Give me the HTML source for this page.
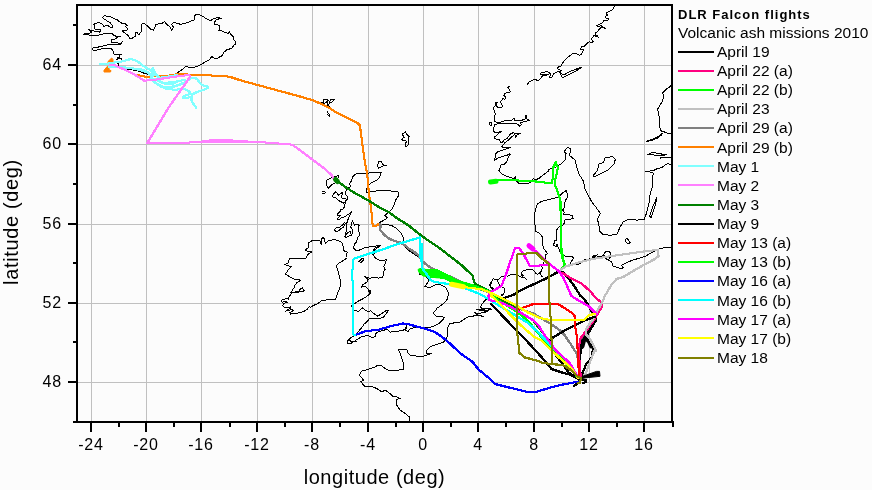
<!DOCTYPE html>
<html><head><meta charset="utf-8"><title>DLR Falcon flights - Volcanic ash missions 2010</title>
<style>html,body{margin:0;padding:0;background:#fcfcfc;width:872px;height:490px;overflow:hidden}body{position:relative}</style>
</head><body>
<svg width="872" height="490" viewBox="0 0 872 490" style="position:absolute;left:0;top:0"><g shape-rendering="crispEdges"><rect x="91" y="6" width="1" height="415" fill="#c0c0c0"/><rect x="146" y="6" width="1" height="415" fill="#c0c0c0"/><rect x="201" y="6" width="1" height="415" fill="#c0c0c0"/><rect x="257" y="6" width="1" height="415" fill="#c0c0c0"/><rect x="312" y="6" width="1" height="415" fill="#c0c0c0"/><rect x="368" y="6" width="1" height="415" fill="#c0c0c0"/><rect x="423" y="6" width="1" height="415" fill="#c0c0c0"/><rect x="478" y="6" width="1" height="415" fill="#c0c0c0"/><rect x="534" y="6" width="1" height="415" fill="#c0c0c0"/><rect x="589" y="6" width="1" height="415" fill="#c0c0c0"/><rect x="644" y="6" width="1" height="415" fill="#c0c0c0"/><rect x="78" y="382" width="593" height="1" fill="#c0c0c0"/><rect x="78" y="303" width="593" height="1" fill="#c0c0c0"/><rect x="78" y="224" width="593" height="1" fill="#c0c0c0"/><rect x="78" y="144" width="593" height="1" fill="#c0c0c0"/><rect x="78" y="65" width="593" height="1" fill="#c0c0c0"/></g><path d="M102.8,17.7 103.3,16.3 105.1,15.4 106.8,16.3 109.1,16.3 112.0,17.2 114.2,18.9 117.1,19.7 119.4,21.7 121.7,23.2 124.6,23.8 126.9,24.3 127.4,25.8 125.1,26.3 126.3,27.5 128.0,29.2 126.3,30.3 124.0,30.3 122.3,30.9 123.4,32.1 125.1,33.2 126.9,34.4 128.0,35.5 129.2,37.2 130.3,38.9 132.0,38.4 133.7,37.2 135.0,36.6 135.0,33.0 137.0,32.5 138.8,34.8 141.0,32.0 142.0,23.8 144.3,23.6 148.0,26.5 150.7,29.3 153.5,30.2 154.8,27.9 155.3,24.7 159.0,23.8 161.9,23.5 164.8,21.6 166.8,24.5 169.7,26.4 171.6,30.3 173.6,27.4 171.6,24.5 173.6,22.5 177.5,23.5 181.4,24.5 183.3,23.5 188.2,22.5 192.1,20.6 195.0,19.6 194.0,16.7 196.0,14.7 198.9,14.4 201.9,15.7 204.8,17.7 207.7,19.6 210.6,20.6 213.6,18.6 214.4,18.6 216.5,17.6 221.3,18.1 216.5,19.7 213.9,22.9 214.9,25.0 217.6,24.5 219.7,26.0 219.2,29.2 218.7,30.8 221.8,30.8 225.0,32.4 228.2,33.5 229.3,31.9 230.9,34.5 233.5,36.7 233.0,39.3 235.1,40.9 235.6,44.1 233.5,45.2 232.5,47.8 229.8,48.9 226.6,49.9 225.0,51.5 223.4,52.1 224.0,53.1 221.8,55.8 218.7,57.4 216.0,59.0 212.8,57.4 211.8,56.3 210.7,57.9 209.1,60.0 204.2,62.5 199.6,65.3 195.0,67.0 188.2,67.0 185.9,66.5 180.1,71.1 175.6,73.9 169.8,76.2 161.8,76.2 150.3,74.5 146.4,73.9 141.8,72.5 139.1,71.2 130.0,69.5 123.5,68.4 119.0,66.0 118.0,63.5 120.7,61.1 121.5,60.3 121.5,58.9 120.0,58.4 118.0,58.9 116.6,59.4 117.6,57.9 119.5,57.4 120.0,54.9 121.5,54.2 118.5,54.7 116.6,54.9 114.1,54.0 113.4,53.7 113.4,51.4 111.5,48.7 106.9,48.2 100.5,49.1 95.0,50.5 92.9,50.0 92.0,48.1 95.6,47.6 102.0,46.3 109.4,44.4 120.4,44.4 122.2,41.7 120.4,43.5 116.7,42.6 111.7,42.1 111.7,39.8 113.7,40.0 115.4,38.9 117.7,37.2 120.6,36.4 117.1,36.7 114.2,35.5 112.0,33.5 104.5,33.5 99.9,34.9 96.5,35.5 91.9,35.5 88.4,34.9 85.0,34.9 83.5,34.5 85.0,33.5 87.3,33.2 89.6,33.2 91.9,32.6 90.2,30.9 88.4,29.2 90.7,30.3 93.6,30.9 96.5,31.5 99.3,32.1 101.1,30.9 100.5,29.2 97.6,29.8 95.3,29.2 94.2,28.1 94.7,26.3 93.6,24.6 95.3,23.5 97.0,22.9 99.3,22.9 101.6,23.5 102.8,24.6 103.9,26.3 105.6,25.8 107.4,25.2 109.1,26.3 110.2,27.5 112.0,28.1 113.1,26.9 112.0,25.2 110.8,23.5 109.7,22.3 107.9,21.7 106.2,20.0 103.9,18.9 102.8,17.7 M323.4,99.8 326.6,99.3 327.7,100.4 326.6,102.0 325.0,103.0 324.0,104.1 322.9,102.5 323.4,100.9 323.4,99.8 M327.2,101.4 328.7,100.9 329.8,102.5 328.7,104.6 327.7,105.7 327.2,104.1 327.2,101.4 M330.3,99.8 334.6,99.3 333.5,100.9 331.9,102.0 330.9,103.0 329.8,101.4 330.3,99.8 M327.2,111.5 328.2,113.6 329.8,114.7 329.3,116.3 328.2,115.8 327.7,114.2 M320.5,102.0 322.0,102.5 M329.0,106.5 331.0,107.5 M405.5,131.4 406.0,132.7 407.0,134.4 407.8,135.7 409.5,136.2 408.5,136.7 408.5,139.8 408.8,143.4 408.0,144.9 407.2,145.9 405.7,146.4 405.2,144.9 405.5,142.9 406.5,141.8 406.0,140.6 404.9,140.3 403.7,140.8 402.1,139.8 401.4,139.3 402.7,138.3 404.4,137.5 403.4,136.5 402.9,135.2 402.4,134.2 403.4,133.2 404.7,132.7 405.5,131.4 M378.4,162.0 381.2,161.3 382.6,164.8 386.7,165.5 382.6,166.1 378.4,168.2 377.7,165.5 378.4,162.0 M326.1,180.6 328.9,179.2 333.7,176.5 338.5,175.8 337.8,179.2 335.8,182.7 331.6,184.7 328.2,188.2 326.8,185.4 326.1,180.6 M322.0,191.6 323.5,191.2 325.5,192.5 324.0,193.7 322.5,193.2 M331.6,196.4 335.8,191.6 338.5,195.0 342.7,192.3 341.3,197.8 346.8,199.2 344.0,203.3 338.5,200.5 335.8,197.8 331.6,196.4 M355.7,173.7 363.3,173.0 366.0,173.7 371.6,172.3 381.2,172.3 379.8,177.2 377.1,179.9 371.6,182.7 368.1,185.4 367.4,188.2 366.0,188.2 366.0,193.0 371.6,191.6 377.1,190.9 382.6,190.2 389.4,190.9 397.7,191.6 399.1,195.0 396.3,199.2 395.7,200.0 394.3,204.1 391.6,209.6 388.8,212.4 384.7,215.1 387.4,217.9 383.3,220.6 379.2,222.7 378.5,224.1 380.5,224.8 384.7,224.1 391.6,225.5 397.1,228.9 401.2,233.0 403.3,237.2 403.3,241.3 402.6,244.0 405.3,246.8 409.4,250.9 413.6,253.7 417.7,256.4 420.5,259.2 421.8,264.7 422.3,267.9 418.9,270.0 419.5,274.0 425.0,276.0 429.2,280.3 426.4,284.4 425.0,286.5 429.2,287.8 434.7,285.1 440.2,284.4 445.7,287.2 448.4,292.7 447.7,298.2 445.7,301.6 441.6,305.0 443.4,303.7 439.7,306.4 436.9,308.3 436.0,310.1 433.3,312.9 434.2,314.7 436.9,316.5 441.5,316.5 444.3,317.4 443.4,319.3 439.7,323.0 435.1,325.7 430.5,327.1 419.5,327.5 414.0,327.5 409.4,329.4 408.5,331.2 405.7,330.8 406.6,325.7 405.7,328.5 403.0,330.3 397.4,331.2 390.1,332.1 387.3,329.4 381.8,330.6 376.3,332.7 374.9,336.8 372.2,337.5 368.1,335.4 361.2,336.8 357.1,339.5 351.6,343.0 347.4,343.7 347.4,340.9 350.2,338.2 354.3,335.4 357.1,332.7 361.2,328.5 363.9,324.4 366.7,321.7 369.4,318.9 376.3,318.9 383.2,317.5 387.3,312.0 388.7,310.0 386.0,310.6 381.8,313.4 377.7,316.1 373.6,313.4 370.8,310.6 368.1,312.0 365.3,310.0 362.6,307.9 358.4,311.3 354.3,310.6 351.6,305.8 354.3,303.8 358.4,301.0 363.9,298.3 368.1,295.5 370.8,292.8 370.1,290.0 369.4,293.3 368.1,289.2 365.3,286.4 361.2,287.1 362.6,285.0 366.7,282.3 368.1,279.5 363.9,276.1 369.4,278.2 376.3,277.5 378.3,278.2 382.4,277.5 383.8,274.8 383.1,272.0 385.1,269.3 383.8,266.5 385.1,263.8 386.5,259.6 381.0,261.0 377.7,259.6 374.9,257.5 372.2,253.4 373.6,249.3 376.3,247.2 380.5,245.4 M380.5,245.4 377.8,247.5 375.0,249.5 374.4,253.7 M355.7,173.7 353.0,176.5 351.6,180.6 349.5,184.0 350.9,186.8 346.8,188.2 346.1,190.9 345.4,194.4 347.9,196.8 347.9,198.7 346.1,200.5 345.2,203.3 344.3,206.9 343.3,208.8 340.6,209.7 339.7,212.4 337.8,213.3 337.8,215.2 340.6,215.2 338.8,217.0 336.9,218.9 338.8,219.8 341.5,217.9 344.3,217.0 347.0,215.2 349.8,213.3 351.6,211.5 350.7,214.3 348.9,217.0 347.9,219.8 347.0,222.5 346.1,225.3 347.0,229.0 346.1,231.7 345.2,234.4 345.2,237.2 347.0,237.2 349.6,235.8 350.7,235.4 352.5,233.5 352.5,229.9 350.7,227.1 351.6,223.4 352.5,220.7 354.4,225.3 357.1,224.4 359.9,225.3 358.0,226.2 358.9,231.7 359.9,234.4 358.0,237.2 357.1,240.0 356.5,242.0 354.4,244.0 353.7,248.2 356.5,250.9 361.3,249.5 365.4,247.5 370.9,246.8 375.0,246.1 380.5,245.4 M334.2,229.9 336.9,227.1 338.8,228.0 340.6,226.2 342.4,225.3 344.3,222.5 345.2,223.4 343.3,227.1 340.6,229.0 338.8,230.8 336.9,231.7 335.1,230.8 334.2,229.9 M344.7,236.9 347.4,232.8 350.2,231.4 351.6,235.5 348.8,235.5 M358.4,261.6 362.6,258.2 363.9,259.6 361.2,262.3 358.4,261.6 M347.4,257.5 346.0,254.8 347.4,252.0 343.3,250.6 343.3,246.5 341.9,242.4 337.8,240.3 333.7,239.6 328.2,241.0 325.4,243.1 324.0,238.3 322.7,237.6 321.3,239.6 321.3,244.4 319.9,241.0 317.2,240.3 313.0,240.3 308.9,242.4 308.2,247.9 304.8,250.0 307.5,251.3 311.6,252.0 307.5,254.8 306.1,258.2 297.9,258.9 289.6,258.9 287.6,263.7 284.1,264.4 288.3,265.8 291.7,266.5 288.3,269.9 285.5,274.0 289.6,276.8 293.8,278.9 300.6,280.2 296.5,283.0 294.7,285.8 294.0,287.9 292.6,289.9 291.2,292.0 289.5,292.0 292.6,292.0 298.8,292.0 304.4,291.0 302.3,287.9 300.9,288.6 298.8,291.0 292.6,292.5 291.2,293.4 289.1,296.9 288.4,299.3 287.0,298.6 284.9,299.0 282.2,299.7 281.5,301.1 282.2,302.1 284.9,301.8 287.7,302.1 286.3,302.4 283.6,303.5 282.9,305.2 283.2,306.6 285.6,307.7 288.4,307.3 290.5,307.0 290.8,308.0 288.4,309.4 285.6,311.1 289.1,310.1 291.9,309.7 293.3,310.4 291.9,311.5 289.8,312.9 290.5,314.3 291.9,313.2 296.1,313.6 298.8,312.9 303.7,311.5 307.2,309.4 309.3,306.6 310.3,307.2 314.4,305.1 318.5,303.1 321.3,301.0 328.2,299.6 335.0,299.6 336.4,296.9 337.8,292.8 339.2,290.0 340.5,285.0 340.5,280.9 339.2,275.4 337.8,269.9 336.4,265.8 339.2,263.0 344.7,259.6 347.4,257.5 M409.5,422.0 409.5,417.0 405.3,413.6 400.3,410.3 396.9,405.3 396.1,399.4 400.3,398.6 396.9,396.9 393.6,396.9 390.2,393.6 385.2,390.2 381.8,391.9 376.8,388.5 370.1,386.0 365.1,386.9 360.9,381.8 363.4,380.2 361.8,377.7 359.2,375.1 361.8,371.0 368.5,369.3 373.5,367.6 376.8,365.9 381.8,365.9 385.2,368.5 390.2,371.0 398.6,370.1 403.6,369.3 403.6,363.4 401.9,358.4 400.3,353.4 398.6,350.0 401.9,349.2 406.9,349.2 407.8,352.6 410.3,355.1 415.3,355.9 422.0,356.7 427.0,355.1 432.0,353.4 426.2,353.4 427.0,350.0 430.4,346.7 437.1,344.2 443.4,342.2 446.1,339.5 447.0,336.7 447.0,330.3 448.0,326.6 449.8,323.9 453.5,323.0 459.9,322.0 462.6,320.2 465.0,318.6 468.0,317.0 472.9,316.3 475.4,315.1 477.8,315.6 483.2,316.3 477.8,315.0 474.4,312.6 477.3,313.6 484.2,312.6 487.6,311.4 482.7,310.9 476.3,309.4 480.7,309.4 485.2,308.5 491.0,308.7 491.5,309.4 487.6,310.2 485.2,310.4 480.3,307.2 481.2,305.8 482.2,303.8 484.2,301.4 486.6,298.9 488.3,294.9 492.9,290.3 491.8,288.0 489.5,285.0 493.5,278.5 496.0,280.0 498.4,279.8 501.1,277.0 504.8,275.7 507.5,276.1 510.3,274.7 514.0,274.3 516.7,275.2 519.5,276.1 521.8,277.5 523.2,275.7 521.8,273.4 522.2,271.5 525.0,270.1 528.7,269.7 532.3,269.7 534.2,271.1 536.0,273.4 537.9,274.3 540.6,272.4 541.5,270.6 542.4,267.9 541.5,266.0 543.4,264.2 545.2,257.8 545.1,255.3 547.4,253.5 546.0,251.6 543.3,248.0 542.8,245.2 542.3,236.9 539.6,233.3 535.5,231.4 535.0,225.0 534.4,219.3 535.1,211.0 537.2,204.1 541.3,201.4 548.8,199.6 558.0,197.3 562.7,192.7 566.7,190.4 567.5,197.0 565.1,201.0 564.3,207.6 562.6,210.0 564.3,212.5 563.4,214.9 567.5,214.1 572.4,215.7 573.2,218.2 569.2,219.8 565.1,219.8 564.3,223.1 561.8,226.3 558.5,227.2 556.9,229.6 556.1,233.7 556.9,240.2 554.5,241.0 553.7,245.1 556.1,246.7 556.9,244.3 559.4,250.0 561.0,254.1 565.9,256.5 570.0,256.5 574.0,257.3 572.4,259.8 570.5,262.5 569.9,264.4 576.8,264.4 580.2,263.7 585.0,259.6 589.2,258.9 591.9,258.2 593.3,256.1 597.4,254.8 593.3,257.5 598.8,256.8 603.8,255.6 604.5,256.9 605.8,258.9 608.4,259.5 610.4,256.9 610.4,253.0 608.4,251.0 605.8,251.0 605.1,252.3 603.8,254.3 604.5,256.9 608.4,260.2 611.7,262.1 613.0,266.0 616.9,267.3 621.5,268.6 623.5,267.3 621.5,265.4 626.1,262.8 632.6,260.2 639.1,258.2 645.7,256.2 649.6,253.6 653.5,251.7 658.8,249.1 664.0,247.8 671.0,247.1 M497.0,280.5 498.4,282.5 500.2,286.2 503.9,288.1 504.8,290.8 503.9,293.6 502.0,295.4 501.1,294.5 M521.3,273.4 522.2,277.0 525.0,278.0 526.8,279.8 M538.8,272.0 540.6,274.3 542.4,277.0 M491.9,281.6 490.1,287.1 492.9,288.1 494.7,289.9 491.9,290.8 M347.5,340.0 352.0,341.5 356.7,341.7 M590.0,198.4 591.5,201.4 596.0,207.3 600.4,213.3 597.5,219.3 598.9,225.2 600.0,231.6 602.4,234.1 609.8,235.3 617.1,234.1 619.6,228.0 623.3,221.8 628.2,219.4 636.7,220.1 644.1,219.4 646.5,213.3 649.0,203.5 650.2,193.7 652.7,186.3 652.4,180.0 652.9,175.0 653.5,173.3 651.2,172.2 645.6,171.1 649.0,171.1 653.5,170.5 656.9,168.8 661.3,167.7 664.2,166.0 665.3,164.9 667.0,163.8 671.0,164.3 M647.3,154.8 652.4,152.5 656.9,153.1 662.5,154.2 666.4,154.8 662.5,155.3 658.0,155.9 653.5,154.8 647.3,154.8 M660.2,158.7 660.2,157.6 671.0,157.6 M671.0,133.4 665.8,132.9 663.6,131.2 661.9,131.7 660.2,129.5 659.7,125.0 660.0,120.8 657.6,109.3 661.7,102.4 663.9,97.1 662.8,92.8 667.1,88.5 670.3,86.4 671.0,85.0 M662.5,132.9 659.1,136.2 653.5,139.0 646.7,141.3 651.2,140.7 657.9,137.9 661.9,134.6 662.5,132.9 M590.0,198.4 588.1,195.0 584.7,188.0 583.5,181.1 578.9,174.1 576.6,167.2 575.4,160.2 569.6,155.6 570.8,148.6 567.3,147.5 563.8,152.1 566.1,153.3 565.0,160.2 561.5,163.7 555.7,167.2 548.8,169.5 548.2,171.4 543.6,174.6 539.0,178.3 535.4,180.1 533.5,178.7 531.7,181.0 528.0,183.8 523.4,183.8 518.9,183.3 515.7,180.1 515.7,176.4 514.3,178.7 506.9,176.4 502.4,174.1 500.2,172.1 498.8,170.2 500.2,167.5 501.1,164.7 503.9,164.7 505.7,162.9 507.5,160.1 508.5,156.5 510.3,154.6 509.4,153.7 507.5,155.1 504.8,155.5 502.0,156.9 498.4,157.4 496.5,159.2 494.7,160.1 495.2,156.5 495.6,153.7 497.4,151.9 500.2,151.0 503.0,150.0 506.6,148.7 510.3,147.7 507.5,147.7 503.0,147.7 502.0,146.4 504.8,142.7 507.5,140.9 510.3,138.1 515.8,133.5 520.4,133.5 516.7,135.3 514.9,138.1 515.4,137.2 514.9,134.4 513.5,132.6 511.2,133.5 509.4,135.3 507.5,138.1 503.9,139.9 502.0,143.2 500.2,141.8 499.3,139.5 497.0,139.9 494.7,138.1 494.7,136.7 497.4,134.9 498.4,133.1 502.0,131.7 498.4,132.1 494.7,132.1 492.9,130.2 493.8,127.5 494.7,124.7 498.4,123.4 507.5,123.4 516.7,123.8 518.6,124.7 519.5,126.6 521.3,124.7 520.4,122.9 523.2,122.0 526.8,121.1 529.6,120.1 527.8,119.7 525.9,117.4 526.8,115.1 525.5,115.5 525.0,119.2 522.2,120.1 518.6,120.6 514.4,120.1 514.0,117.8 511.2,120.6 507.5,120.1 503.9,121.1 500.2,122.4 496.5,122.4 494.7,121.1 494.7,117.4 495.2,113.7 494.7,111.0 492.9,109.1 493.8,107.3 495.6,105.4 497.4,102.7 495.2,102.7 496.5,106.4 498.4,107.7 501.1,107.7 503.0,106.4 500.2,101.8 502.0,99.9 503.4,98.1 504.8,99.9 505.7,97.2 503.9,95.3 504.8,93.5 507.2,92.5 510.3,92.0 509.3,89.4 507.7,87.3 510.3,86.3 M489.2,122.4 491.9,123.0 491.0,125.6 489.2,124.5 489.2,122.4 M527.3,84.7 528.9,82.2 531.0,81.1 534.1,79.6 536.1,79.1 537.2,80.6 539.2,80.1 541.3,78.0 542.3,76.0 545.4,75.4 548.5,74.4 544.4,74.4 541.3,74.9 540.2,73.4 543.3,72.3 546.4,71.8 549.5,72.3 550.6,74.9 549.5,77.5 551.6,78.0 552.6,76.0 553.7,73.9 555.7,72.3 558.8,71.3 560.5,73.0 564.0,74.9 568.1,72.3 574.3,69.8 581.5,67.2 576.4,70.8 570.2,73.9 564.0,77.0 561.9,77.0 560.9,74.9 559.9,71.3 561.9,70.3 559.3,69.8 557.3,68.2 558.8,66.7 561.9,65.6 561.9,64.1 564.0,61.0 567.1,57.9 570.2,55.3 573.3,53.3 576.4,53.8 579.5,55.3 581.5,54.3 582.6,52.2 583.6,49.6 580.5,49.1 581.5,47.0 584.1,46.3 585.9,44.5 587.8,42.6 589.6,41.7 591.4,42.6 593.3,41.7 592.3,40.8 591.4,39.0 592.8,37.1 594.2,35.3 596.0,36.2 598.3,37.1 596.9,35.3 595.1,34.4 596.0,32.5 597.9,31.6 598.8,29.8 600.6,28.0 602.4,27.0 605.2,28.4 604.3,27.5 602.4,26.6 601.1,25.7 598.8,26.6 596.9,25.7 598.8,24.3 600.6,23.8 602.4,22.9 603.4,21.1 605.2,20.2 608.0,20.2 608.9,19.2 608.0,18.8 605.7,17.9 606.1,16.0 608.0,15.1 606.6,14.2 607.0,12.3 609.8,11.0 612.5,9.6 613.5,7.8 615.3,6.0 M593.0,176.0 597.5,170.1 598.9,164.1 603.4,162.6 604.9,158.1 612.4,156.6 615.3,159.6 613.9,164.1 610.9,167.1 607.9,170.1 601.9,173.0 596.0,176.0 593.0,176.0 M657.1,196.9 652.6,207.3 649.6,216.3 651.1,217.8 654.1,208.8 657.1,198.4 M624.9,239.6 627.0,238.3 630.4,242.4 628.4,243.8 625.6,241.7 624.9,239.6" fill="none" stroke="#000" stroke-width="1" stroke-linejoin="round" shape-rendering="crispEdges"/><g transform="translate(-0.5,-0.5)" shape-rendering="crispEdges"><path id="t3" d="M490.6,303.3 515.9,330 527.3,341.5 538.8,354.1 548,364.4 551.4,369 561.7,372.4 570,374.7 579.2,379.4 M498,299 504.4,297.8 513.6,294.9 518.2,291.5 530.1,285.9 545,279 556.5,272.7 561.1,271 564.5,273.3 572.6,283.6 580.6,296 583.6,298.3 589.2,306.5 591.9,312 596,314.8 596,320.3 591.9,327.2 587.8,334 585,339.5 582.3,345 580.9,351.9 579.5,357 580,366 579.5,378 M592.8,321 586.7,334.5 584.2,339.4 582,345 M586.4,336.8 590.5,342.3 593.3,346.4 592.6,350.5 591.9,357 589.7,360 586.1,364.2 582.4,373.4 580.5,376.6" fill="none" stroke="#000000" stroke-width="1"/><use href="#t3" x="1"/><use href="#t3" y="1"/><use href="#t3" x="1" y="1"/></g><path d="M585.5,337.5 589.5,341.5 591.5,346 M583.5,340.5 582,346" fill="none" stroke="#000000" stroke-width="5" stroke-linecap="round"/><g transform="translate(-0.5,-0.5)" shape-rendering="crispEdges"><path id="t5" d="M561.1,272.1 570.3,277.8 581.7,283.6 587.8,289.2 589.2,290 596,298.3 601.5,302.4 602.2,306.5 598.8,312 594,320 587.9,328.4 580.6,338.2 578.9,346.7 579.5,360 580.2,370 580.8,377" fill="none" stroke="#ff0080" stroke-width="1"/><use href="#t5" x="1"/><use href="#t5" y="1"/><use href="#t5" x="1" y="1"/></g><g transform="translate(-0.5,-0.5)" shape-rendering="crispEdges"><path id="t6" d="M489.7,181.1 504.7,179.9 532.5,181.1 552.2,183.4 553.4,167.2 555.7,162.5 558,167.2 554.5,183.4 558,192.7 560.3,199.6 560.9,230 560.9,250.6 563,260.3 565.8,265.8 561.6,268.5 560.3,269.9 M560.5,200 561.2,246.8 564.7,267" fill="none" stroke="#00ff00" stroke-width="1"/><use href="#t6" x="1"/><use href="#t6" y="1"/><use href="#t6" x="1" y="1"/></g><path d="M490.5,182 496,181.3" fill="none" stroke="#00ff00" stroke-width="5" stroke-linecap="round"/><g transform="translate(-0.5,-0.5)" shape-rendering="crispEdges"><path id="t8" d="M560.3,269.9 565.8,266.5 579.5,262.3 593.3,258.9 607,256.8 620.8,254.8 634.6,252.7 648.3,250.9 658,250 658.6,256.1 653.8,259.6 637.3,268.5 623.6,276.8 616.7,278.9 611.2,285 604.3,297 602.9,301 597.4,310.6 593.3,318.9 586.4,328.5 585.7,334 589.2,338.2 593.3,345 596,350.5 594.3,351 590.2,361.5 586,372.5 583.3,376.6" fill="none" stroke="#c0c0c0" stroke-width="1"/><use href="#t8" x="1"/><use href="#t8" y="1"/><use href="#t8" x="1" y="1"/></g><g transform="translate(-0.5,-0.5)" shape-rendering="crispEdges"><path id="t9" d="M379.2,223.5 381,225.5 379.8,229 381,231 384,234.5 387.9,237.9 392,240 396.6,241.5 399.6,242.3 404.2,244.9 408.8,248.6 413.4,251.3 418,255 422.9,261.7 428.7,266.3 436.7,270.9 452.6,277.5 466.3,284.4 489.7,292.7 492.9,297.2 515.9,307.5 533.1,313.3 550.3,323.6 561.7,331.6 565.8,336.8 571.3,345 576.4,353.3 579.2,362.9 579.2,377" fill="none" stroke="#808080" stroke-width="1"/><use href="#t9" x="1"/><use href="#t9" y="1"/><use href="#t9" x="1" y="1"/></g><g transform="translate(-0.5,-0.5)" shape-rendering="crispEdges"><path id="t10" d="M110,64.6 113.3,64.6 123.7,69.2 135.1,74.9 138.6,74.9 140.9,76.2 146.6,76.7 158.1,76.1 169.5,75.5 177.5,74.2 190.4,74.6 201.4,75.1 214.3,75.6 225.3,76 231.7,77.4 240,80.2 300,96.5 313.8,100.6 327.5,106.8 337.2,113 357.8,123.3 359.9,125.4 361.2,135 362.6,146 364.7,160.6 367.4,175.8 368.8,192.3 370.9,207 371.6,213.8 372.3,222 373,226.1 376.4,225.5 378.5,224.1" fill="none" stroke="#ff8000" stroke-width="1"/><use href="#t10" x="1"/><use href="#t10" y="1"/><use href="#t10" x="1" y="1"/></g><polygon points="108,61.5 111.7,58 113,59.5 113,62.5 111,63.6 108,63.6" fill="#ff8000" stroke="#ff8000" stroke-width="1"/><polygon points="104,70.3 107.5,66.2 108.8,66.7 109.2,70 111,70.6 110.5,72 104,72" fill="#ff8000" stroke="#ff8000" stroke-width="1"/><g transform="translate(-0.5,-0.5)" shape-rendering="crispEdges"><path id="t13" d="M99.6,64 108.8,63.5 117,62 123.7,61.2 129.9,59.2 132.8,59.5 137.4,61.2 143.2,65.8 148.9,69.2 152.3,71.5 153.5,74.9 151.2,78.4 154.6,81.8 160.4,86.4 166.1,88.7 175.3,86.4 184.4,83 190.2,78.4 194.1,77.9 196.8,78.8 199.6,82.4 202.3,85.2 206.9,86.1 208.8,87.5 206,88.9 201.4,90.7 195.9,92.5 192.2,94.4 188.6,94.4 184,96.2 183.1,97.6 186.7,98.1 190.4,96.7 192.2,96.2 191.3,99.9 193.2,103.6 195.9,107.2 196.8,109.1 M108.8,66.9 117.9,66.9 129.4,68.1 140.9,69.2 146.6,71.5 150,74.9 152.3,78.4 158.1,80.7 163.8,83 175.3,81.8 185.6,79.5 M122.5,67 137.2,69.3 148.3,72.5 151.9,75.3 M150,70.5 152.8,68.7 154.6,72.3 157.3,76 159.2,77.9 166.5,76.9 173.9,75.6 177.5,75.1 M150,78.8 154.6,82.4 159.2,85.2 163.8,87 170.2,87 177.5,85.2 184.9,82.4 190.4,78.8 M159.2,81.5 163.8,83.4 168.4,84.3 173.9,83.4 177.5,81.5 M161,86.1 168.4,88.9 174.8,89.8 182.1,88.9 186.7,89.8 190.4,92.5" fill="none" stroke="#80ffff" stroke-width="1"/><use href="#t13" x="1"/><use href="#t13" y="1"/><use href="#t13" x="1" y="1"/></g><g transform="translate(-0.5,-0.5)" shape-rendering="crispEdges"><path id="t14" d="M109.9,64.6 113.3,64.6 123.7,69.2 135.1,74.9 144.3,80.7 152.3,80.1 163.8,78.4 175.3,76.7 189,74.9 190.2,76.7 186.7,81.8 181,89.8 175.3,97.9 169,107 162.1,118.3 147.2,143.2 161,143.2 180,142.7 200,142.3 230,142.2 262.5,142.3 276.3,143.3 290,144.4 292.8,145.1 299.7,149.9 313.8,160.6 324.8,168.9 331.6,175.1 335.8,181.3 M200,141.8 210,140.5 215.8,139.8 225.4,139.8 235,140.8 247.4,141.5" fill="none" stroke="#ff80ff" stroke-width="1"/><use href="#t14" x="1"/><use href="#t14" y="1"/><use href="#t14" x="1" y="1"/></g><g transform="translate(-0.5,-0.5)" shape-rendering="crispEdges"><path id="t15" d="M335.5,179.1 343.8,186 353,192 362.1,197 369.5,201.2 380.5,208.1 389.7,212.6 395,216.9 408.8,225.6 422.5,236.6 436.3,245.8 447.3,254.1 461.4,265 466.7,270.3 471.3,273.9 473.2,276.7 473.6,280.4 475,283.6 481.4,286.8 488.8,290.5 498.7,298.3 510.1,304.1 521.6,313.3 533.1,320.1 544.5,335 556,350.6 570,363.3 579,379" fill="none" stroke="#008000" stroke-width="1"/><use href="#t15" x="1"/><use href="#t15" y="1"/><use href="#t15" x="1" y="1"/></g><path d="M335.5,179.5 337.5,181.5" fill="none" stroke="#008000" stroke-width="5" stroke-linecap="round"/><g transform="translate(-0.5,-0.5)" shape-rendering="crispEdges"><path id="t17" d="M595.2,316.5 583.6,321 565.8,329.9 552,338.2 549,341.5 556,355.2 568.6,372.4 579.2,379.4 M581,379 577,383.5 573.7,386.5 M582,380 585.5,380 586,382 583,383" fill="none" stroke="#000000" stroke-width="1"/><use href="#t17" x="1"/><use href="#t17" y="1"/><use href="#t17" x="1" y="1"/></g><polygon points="582,376.5 596.5,371.4 599.5,371.4 600,376.3 586,377.8 582,378.5" fill="#000000" stroke="#000000" stroke-width="1"/><g transform="translate(-0.5,-0.5)" shape-rendering="crispEdges"><path id="t19" d="M513.6,309.8 523.9,307.5 533.1,304.1 544.5,303.5 552,303.8 557.5,303.8 564.4,307.9 572.6,313.4 574.7,316.1 574.7,323 576.8,336.8 577.5,347 577.8,358.8 579.2,375.3 M577.2,345 578.5,360 579.5,375" fill="none" stroke="#ff0000" stroke-width="1"/><use href="#t19" x="1"/><use href="#t19" y="1"/><use href="#t19" x="1" y="1"/></g><g transform="translate(-0.5,-0.5)" shape-rendering="crispEdges"><path id="t20" d="M427,270 437.4,270.5 448.4,276 455.3,280 462.2,282.3 474,285.8 489.7,291.3 498.7,300.6 515.9,311 527.3,320.1 538.8,333.9 550,348 565,362 579,379 M427,276 436.7,277.3 442.9,277.6 449.8,280.4 462,285 474,287 489.7,292" fill="none" stroke="#00ff00" stroke-width="1"/><use href="#t20" x="1"/><use href="#t20" y="1"/><use href="#t20" x="1" y="1"/></g><polygon points="418,269.5 420,268.5 424,268.8 427,270 427,276.5 423,276 419,272.5" fill="#00ff00" stroke="#00ff00" stroke-width="1"/><polygon points="427,269.5 437.4,270 448.4,275.5 455.3,279.5 462.2,281.8 474,285.2 474,287 462,285 451,282.5 449.8,280.8 442.9,278 436.7,277.8 431.2,277 427,276.5" fill="#00ff00" stroke="#00ff00" stroke-width="1"/><g transform="translate(-0.5,-0.5)" shape-rendering="crispEdges"><path id="t23" d="M354.3,335.4 359.8,333.3 365.3,331.3 376.3,329.9 380,329.4 389.2,326.6 403,323.4 407.5,323.9 416.7,326.6 423.2,328 435.1,332.1 444.3,338.6 451.6,345 457.1,350.3 462.5,355 472.1,361.4 478.5,369.4 488.2,377.5 494.6,383.9 504.2,386.3 517.1,389.5 526.7,391.9 536.3,391.9 549.2,387.9 562,384.7 574.9,382.3 578.9,381.5" fill="none" stroke="#0000ff" stroke-width="1"/><use href="#t23" x="1"/><use href="#t23" y="1"/><use href="#t23" x="1" y="1"/></g><g transform="translate(-0.5,-0.5)" shape-rendering="crispEdges"><path id="t24" d="M355,335.4 352.9,334 352.9,290 352.2,272.7 353.6,258.9 368.1,254.1 386.1,248.2 395,244.9 419.8,237.5 420.3,240 420,255 421.6,262 421.6,267.5 424.3,270.9 430.5,279.9 434.6,282 448.4,284 450.5,284.7 466.3,288.8 473.9,291.6 481.5,294.9 492.9,301.8 504.4,308.7 515.9,315.6 527.3,322.4 538.8,332.8 544.5,339.2 556,350.6 570,363.3 579,379 M422,243 422,262" fill="none" stroke="#00ffff" stroke-width="1"/><use href="#t24" x="1"/><use href="#t24" y="1"/><use href="#t24" x="1" y="1"/></g><g transform="translate(-0.5,-0.5)" shape-rendering="crispEdges"><path id="t25" d="M529,245.7 535.9,251.5 549.6,264.1 558.8,271 563.4,277.8 568,288.2 571.4,296 579.5,301 589.2,306.5 594.7,312 597.4,314.1 M549.6,264.7 535.9,265.8 530.1,266.4 523.3,253.8 518.7,247.5 515.2,248 510.6,260.6 506.1,274.4 501.5,285.9 495.7,289.3 490,292.8 488.3,296.1 489.5,300.1 498.7,301.8 510.1,306.4 521.6,313.3 533.1,320.1 538.8,325.9 544.5,335 556,350.6 570,363.3 579,379" fill="none" stroke="#ff00ff" stroke-width="1"/><use href="#t25" x="1"/><use href="#t25" y="1"/><use href="#t25" x="1" y="1"/></g><path d="M529,245.7 533,249" fill="none" stroke="#ff00ff" stroke-width="5" stroke-linecap="round"/><g transform="translate(-0.5,-0.5)" shape-rendering="crispEdges"><path id="t27" d="M451.2,283 465,287.2 481.5,289.2 492.9,293.8 504.4,299.5 515.9,305.2 527.3,312.1 538.8,317.8 550.3,320.1 552,319.6 567.1,319.6 583.6,320.3 587.8,316.1 589.2,314.8 596,314.1 M490.6,294.9 498.7,302.9 510.1,314.4 521.6,325.9 526.2,330 534.2,336.9 541.1,340.3 550.3,349.5 561.7,359.8 570,366.7 579,379" fill="none" stroke="#ffff00" stroke-width="1"/><use href="#t27" x="1"/><use href="#t27" y="1"/><use href="#t27" x="1" y="1"/></g><path d="M451.5,284.2 463.5,286.8" fill="none" stroke="#ffff00" stroke-width="5" stroke-linecap="round"/><g transform="translate(-0.5,-0.5)" shape-rendering="crispEdges"><path id="t29" d="M577,382.5 579.6,382.8 581.5,378.5 577.8,376.6 572.3,371.1 564,365.6 554.4,364.3 551.6,363 551.6,345 551.4,330 549.1,296 549.1,266.4 548.5,263.5 541.6,258.3 535.9,252.6 530.1,253.2 517.5,254.3 516.8,257.2 516.8,330 518.2,341.5 519.3,352.9 525,357.5 538.8,361 543.4,363.3 552.6,363.8 564,365.6" fill="none" stroke="#808000" stroke-width="1"/><use href="#t29" x="1"/><use href="#t29" y="1"/><use href="#t29" x="1" y="1"/></g><g shape-rendering="crispEdges"><rect x="76" y="4" width="597" height="2" fill="#000"/><rect x="76" y="4" width="2" height="419" fill="#000"/><rect x="73" y="421" width="600" height="2" fill="#000"/><rect x="671" y="4" width="2" height="419" fill="#000"/><rect x="90" y="421" width="2" height="11" fill="#000"/><rect x="118" y="421" width="2" height="6" fill="#000"/><rect x="145" y="421" width="2" height="11" fill="#000"/><rect x="173" y="421" width="2" height="6" fill="#000"/><rect x="200" y="421" width="2" height="11" fill="#000"/><rect x="229" y="421" width="2" height="6" fill="#000"/><rect x="256" y="421" width="2" height="11" fill="#000"/><rect x="284" y="421" width="2" height="6" fill="#000"/><rect x="311" y="421" width="2" height="11" fill="#000"/><rect x="339" y="421" width="2" height="6" fill="#000"/><rect x="367" y="421" width="2" height="11" fill="#000"/><rect x="395" y="421" width="2" height="6" fill="#000"/><rect x="422" y="421" width="2" height="11" fill="#000"/><rect x="450" y="421" width="2" height="6" fill="#000"/><rect x="477" y="421" width="2" height="11" fill="#000"/><rect x="505" y="421" width="2" height="6" fill="#000"/><rect x="533" y="421" width="2" height="11" fill="#000"/><rect x="561" y="421" width="2" height="6" fill="#000"/><rect x="588" y="421" width="2" height="11" fill="#000"/><rect x="616" y="421" width="2" height="6" fill="#000"/><rect x="643" y="421" width="2" height="11" fill="#000"/><rect x="672" y="421" width="2" height="6" fill="#000"/><rect x="73" y="421" width="5" height="2" fill="#000"/><rect x="68" y="381" width="10" height="2" fill="#000"/><rect x="73" y="341" width="5" height="2" fill="#000"/><rect x="68" y="302" width="10" height="2" fill="#000"/><rect x="73" y="262" width="5" height="2" fill="#000"/><rect x="68" y="223" width="10" height="2" fill="#000"/><rect x="73" y="183" width="5" height="2" fill="#000"/><rect x="68" y="143" width="10" height="2" fill="#000"/><rect x="73" y="104" width="5" height="2" fill="#000"/><rect x="68" y="64" width="10" height="2" fill="#000"/><rect x="73" y="24" width="5" height="2" fill="#000"/></g><g font-family="Liberation Sans, Arial, sans-serif" font-size="16" letter-spacing="0.8" fill="#000"><text x="91" y="450" text-anchor="middle">-24</text><text x="146" y="450" text-anchor="middle">-20</text><text x="201" y="450" text-anchor="middle">-16</text><text x="257" y="450" text-anchor="middle">-12</text><text x="312" y="450" text-anchor="middle">-8</text><text x="368" y="450" text-anchor="middle">-4</text><text x="423" y="450" text-anchor="middle">0</text><text x="478" y="450" text-anchor="middle">4</text><text x="534" y="450" text-anchor="middle">8</text><text x="589" y="450" text-anchor="middle">12</text><text x="644" y="450" text-anchor="middle">16</text><text x="62" y="387" text-anchor="end">48</text><text x="62" y="308" text-anchor="end">52</text><text x="62" y="229" text-anchor="end">56</text><text x="62" y="149" text-anchor="end">60</text><text x="62" y="70" text-anchor="end">64</text></g><text x="374.5" y="484" text-anchor="middle" font-family="Liberation Sans, Arial, sans-serif" font-size="20" letter-spacing="0.55">longitude (deg)</text><g><text transform="translate(18,222) rotate(-90)" text-anchor="middle" font-family="Liberation Sans, Arial, sans-serif" font-size="20" letter-spacing="0.65">latitude (deg)</text></g><g font-family="Liberation Sans, Arial, sans-serif" fill="#000"><text x="678" y="19" font-weight="bold" font-size="13" letter-spacing="1">DLR Falcon flights</text><text x="678" y="38" font-size="15.5" letter-spacing="0">Volcanic ash missions 2010</text><rect x="678" y="51" width="36" height="2" fill="#000000" shape-rendering="crispEdges"/><text x="717" y="56.9" font-size="15.5" letter-spacing="0">April 19</text><rect x="678" y="70" width="36" height="2" fill="#ff0080" shape-rendering="crispEdges"/><text x="717" y="76.0" font-size="15.5" letter-spacing="0">April 22 (a)</text><rect x="678" y="89" width="36" height="2" fill="#00ff00" shape-rendering="crispEdges"/><text x="717" y="95.2" font-size="15.5" letter-spacing="0">April 22 (b)</text><rect x="678" y="108" width="36" height="2" fill="#c0c0c0" shape-rendering="crispEdges"/><text x="717" y="114.3" font-size="15.5" letter-spacing="0">April 23</text><rect x="678" y="127" width="36" height="2" fill="#808080" shape-rendering="crispEdges"/><text x="717" y="133.4" font-size="15.5" letter-spacing="0">April 29 (a)</text><rect x="678" y="146" width="36" height="2" fill="#ff8000" shape-rendering="crispEdges"/><text x="717" y="152.5" font-size="15.5" letter-spacing="0">April 29 (b)</text><rect x="678" y="165" width="36" height="2" fill="#80ffff" shape-rendering="crispEdges"/><text x="717" y="171.7" font-size="15.5" letter-spacing="0">May 1</text><rect x="678" y="184" width="36" height="2" fill="#ff80ff" shape-rendering="crispEdges"/><text x="717" y="190.8" font-size="15.5" letter-spacing="0">May 2</text><rect x="678" y="204" width="36" height="2" fill="#008000" shape-rendering="crispEdges"/><text x="717" y="209.9" font-size="15.5" letter-spacing="0">May 3</text><rect x="678" y="223" width="36" height="2" fill="#000000" shape-rendering="crispEdges"/><text x="717" y="229.0" font-size="15.5" letter-spacing="0">May 9</text><rect x="678" y="242" width="36" height="2" fill="#ff0000" shape-rendering="crispEdges"/><text x="717" y="248.2" font-size="15.5" letter-spacing="0">May 13 (a)</text><rect x="678" y="261" width="36" height="2" fill="#00ff00" shape-rendering="crispEdges"/><text x="717" y="267.3" font-size="15.5" letter-spacing="0">May 13 (b)</text><rect x="678" y="280" width="36" height="2" fill="#0000ff" shape-rendering="crispEdges"/><text x="717" y="286.4" font-size="15.5" letter-spacing="0">May 16 (a)</text><rect x="678" y="299" width="36" height="2" fill="#00ffff" shape-rendering="crispEdges"/><text x="717" y="305.5" font-size="15.5" letter-spacing="0">May 16 (b)</text><rect x="678" y="318" width="36" height="2" fill="#ff00ff" shape-rendering="crispEdges"/><text x="717" y="324.6" font-size="15.5" letter-spacing="0">May 17 (a)</text><rect x="678" y="337" width="36" height="2" fill="#ffff00" shape-rendering="crispEdges"/><text x="717" y="343.8" font-size="15.5" letter-spacing="0">May 17 (b)</text><rect x="678" y="357" width="36" height="2" fill="#808000" shape-rendering="crispEdges"/><text x="717" y="362.9" font-size="15.5" letter-spacing="0">May 18</text></g></svg>
</body></html>
